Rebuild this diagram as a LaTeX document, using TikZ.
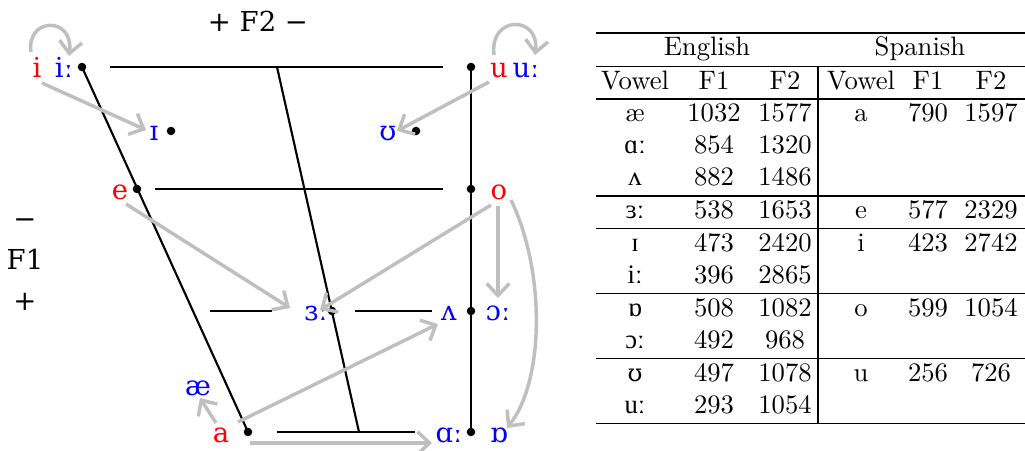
\documentclass[tikz,border=0pt]{standalone}
\usepackage{fontspec}
\newfontfamily\dvs{DejaVu Serif}
\newfontfamily\ipaf{Liberation Serif}
\newfontfamily\ipag{DejaVu Serif}[Scale=0.9]
\newcommand\ipat[1]{{\ipaf #1}}
\newcommand\ipau[1]{{\ipag #1}}
\usetikzlibrary{arrows.meta,calc}
\begin{document}
\begin{tikzpicture}[x=0.375pt,y=-0.375pt,
  lab/.style={font=\dvs\fontsize{10.3}{12}\selectfont, inner sep=0pt, text height=7.6pt, text depth=0pt, anchor=center},
  en/.style={lab,text=red},
  ipa/.style={lab,text=blue},
  vdot/.style={circle,fill=black,inner sep=0pt,minimum size=3.2pt},
  blk/.style={draw=black,line width=0.8pt},
  garrow/.style={draw=black!25,line width=1.3pt,-{Straight Barb[length=4.5pt,width=8.5pt]}},
  tcell/.style={anchor=base,inner sep=0pt,font=\fontsize{10}{12}\selectfont},
  trule/.style={line width=0.4pt}]
\useasboundingbox (0,0) rectangle (1025,451);

% ---- axis labels
\node[font=\dvs\fontsize{10.3}{12}\selectfont,inner sep=0pt] (f2) at (258,21) {+ F2 −};
\node[font=\dvs\fontsize{10.3}{15.4}\selectfont,align=center,inner sep=0pt] (f1) at (25,265) {−\\F1\\+};

% ---- dots
\node[vdot] (dii) at (82,67) {};
\node[vdot] (dI) at (171,131) {};
\node[vdot] (du) at (471,67) {};
\node[vdot] (dU) at (416,131) {};
\node[vdot] (de) at (137,189) {};
\node[vdot] (do) at (471,189) {};
\node[vdot] (der) at (332,311) {};
\node[vdot] (dV) at (471,311) {};
\node[vdot] (da) at (248,432) {};
\node[vdot] (daa) at (471,432) {};

% ---- line end points
\coordinate (mtop) at (277,67);
\coordinate (mbot) at (359,432);
\coordinate (h1a) at (110,67);  \coordinate (h1b) at (443,67);
\coordinate (h2a) at (155,189); \coordinate (h2b) at (443,189);
\coordinate (h3a) at (210,311); \coordinate (h3b) at (272,311);
\coordinate (h3c) at (355,311); \coordinate (h3d) at (432,311);
\coordinate (h4a) at (277,432); \coordinate (h4b) at (415,432);

% ---- quadrilateral
\draw[blk] (dii.center) -- (da.center);
\draw[blk] (du.center) -- (daa.center);
\draw[blk] (mtop) -- (mbot);
\draw[blk] (h1a) -- (h1b);
\draw[blk] (h2a) -- (h2b);
\draw[blk] (h3a) -- (h3b);
\draw[blk] (h3c) -- (h3d);
\draw[blk] (h4a) -- (h4b);

% ---- labels
\node[en]  (i)  at (37,67)   {i};
\node[ipa] (ii) at (64,67)   {iː};
\node[ipa] (I)  at (154,130) {ɪ};
\node[en]  (u)  at (499,67)  {u};
\node[ipa] (uu) at (526,67)  {uː};
\node[ipa] (U)  at (388,130) {ʊ};
\node[en]  (e)  at (120,189) {e};
\node[en]  (o)  at (499,189) {o};
\node[ipa] (er) at (316,310) {ɜː};
\node[ipa] (V)  at (449,310) {ʌ};
\node[ipa] (oo) at (498,310) {ɔː};
\node[ipa] (aa) at (449,432) {ɑː};
\node[ipa] (D)  at (499,432) {ɒ};
\node[en]  (a)  at (221,432) {a};
\node[ipa] (ae) at (198,385) {æ};

% ---- gray arrows
\draw[garrow] ([shift={(-6,-15)}]i.center) .. controls +(-5,-35) and +(5,-40) .. ([shift={(5,-11)}]ii.center);
\draw[garrow] ([shift={(5,16)}]i.center) -- ([shift={(-8,0)}]I.center);
\draw[garrow] ([shift={(-5,-12)}]u.center) .. controls +(-5,-40) and +(5,-40) .. ([shift={(9,-12)}]uu.center);
\draw[garrow] ([shift={(-10,15)}]u.center) -- ([shift={(9,1)}]U.center);
\draw[garrow] ([shift={(6,15)}]e.center) -- ([shift={(-26,-2)}]er.center);
\draw[garrow] ([shift={(-8,16)}]o.center) -- ([shift={(4,0)}]er.center);
\draw[garrow] ([shift={(-1,17)}]o.center) -- ([shift={(0,-12)}]oo.center);
\draw[garrow] ([shift={(12,11)}]o.center) .. controls +(34,70) and +(38,-48) .. ([shift={(8,-4)}]D.center);
\draw[garrow] ([shift={(17,-10)}]a.center) -- ([shift={(-11,14)}]V.center);
\draw[garrow] ([shift={(29,11)}]a.center) -- ([shift={(-17,11)}]aa.center);
\draw[garrow] ([shift={(-5,-9)}]a.center) -- ([shift={(2,13)}]ae.center);

% ---- table
\draw[trule] (596,33) -- (1025,33);
\draw[trule] (596,66.5) -- (1025,66.5);
\draw[trule] (596,99) -- (1025,99);
\draw[trule] (596,196) -- (1025,196);
\draw[trule] (596,228.5) -- (1025,228.5);
\draw[trule] (596,293.5) -- (1025,293.5);
\draw[trule] (596,358.5) -- (1025,358.5);
\draw[trule] (596,423.5) -- (1025,423.5);
\draw[trule] (818,66.5) -- (818,423.5);

\node[tcell] (hen) at (707,56) {English};
\node[tcell] (hsp) at (920,56) {Spanish};
\node[tcell] (hv1) at (635,89.5) {Vowel};
\node[tcell] (hf11) at (714,89.5) {F1};
\node[tcell] (hf21) at (785,89.5) {F2};
\node[tcell] (hv2) at (861,89.5) {Vowel};
\node[tcell] (hf12) at (928,89.5) {F1};
\node[tcell] (hf22) at (991,89.5) {F2};

\foreach \yy/\vv/\fa/\fb [count=\k] in {122/æ/1032/1577, 154/\ipat{ɑː}/854/1320, 186/\ipat{ʌ}/882/1486,
  219/\ipat{ɜː}/538/1653, 251.5/\ipat{ɪ}/473/2420, 283.5/\ipat{iː}/396/2865,
  316.5/\ipat{ɒ}/508/1082, 348.5/\ipat{ɔː}/492/968, 381.5/\ipau{ʊ}/497/1078, 413.5/\ipat{uː}/293/1054}{
  \node[tcell] (env\k) at (635,\yy) {\vv};
  \node[tcell] (enf\k) at (714,\yy) {\fa};
  \node[tcell] (eng\k) at (785,\yy) {\fb};
}
\foreach \yy/\vv/\fa/\fb [count=\k] in {122/a/790/1597, 219/e/577/2329, 251.5/i/423/2742, 316.5/o/599/1054, 381.5/u/256/726}{
  \node[tcell] (spv\k) at (861,\yy) {\vv};
  \node[tcell] (spf\k) at (928,\yy) {\fa};
  \node[tcell] (spg\k) at (991,\yy) {\fb};
}
\end{tikzpicture}
\end{document}
